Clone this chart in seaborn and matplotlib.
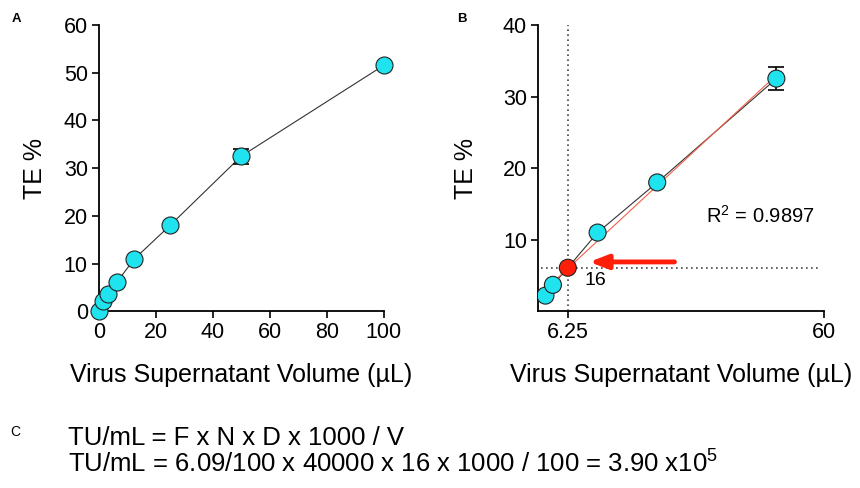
import numpy as np
import pandas as pd
import seaborn as sns
import matplotlib
matplotlib.use('Agg')
import matplotlib.pyplot as plt

# data
vol_a = [0, 1.5625, 3.125, 6.25, 12.5, 25, 50, 100]
te_a = [0, 2.2, 3.7, 6.1, 11.0, 18.0, 32.5, 51.5]
err_a = [0, 0, 0, 0, 0, 0, 1.6, 0]

vol_b = [1.5625, 3.125, 6.25, 12.5, 25, 50]
te_b = [2.2, 3.7, 6.09, 11.0, 18.0, 32.5]
err_b = [0, 0, 0, 0, 0, 1.6]

cut_vol = 6.25
cut_te = 6.09
r2_text = 'R$^2$ = 0.9897'
dil_label = '16'
formula_1 = 'TU/mL = F x N x D x 1000 / V'
formula_2 = 'TU/mL = 6.09/100 x 40000 x 16 x 1000 / 100 = 3.90 x10$^5$'

sns.set_theme(style='ticks', rc={'text.color': 'black', 'axes.labelcolor': 'black',
                                 'xtick.color': 'black', 'ytick.color': 'black'})
plt.rcParams['font.family'] = ['Liberation Sans', 'DejaVu Sans']
plt.rcParams['mathtext.fontset'] = 'custom'
plt.rcParams['mathtext.rm'] = 'Liberation Sans'
plt.rcParams['mathtext.it'] = 'Liberation Sans'

cyan = '#1FE3EE'
fig = plt.figure(figsize=(8.6, 4.88), dpi=100)
ax_a = fig.add_axes([0.115, 0.362, 0.331, 0.587])
ax_b = fig.add_axes([0.6256, 0.362, 0.3326, 0.587])

def style_axis(ax, ypad):
    sns.despine(ax=ax)
    for s in ['left', 'bottom']:
        ax.spines[s].set_linewidth(1.3)
        ax.spines[s].set_color('black')
    ax.tick_params(direction='out', length=5, width=1.2, labelsize=15.5, colors='black', pad=3)
    ax.set_xlabel('Virus Supernatant Volume (µL)', fontsize=18, labelpad=14)
    ax.set_ylabel('TE %', fontsize=18, labelpad=ypad)

# panel A
df_a = pd.DataFrame({'vol': vol_a, 'te': te_a})
sns.lineplot(data=df_a, x='vol', y='te', ax=ax_a, color='#333333', lw=0.8, zorder=2)
ax_a.errorbar(vol_a, te_a, yerr=err_a, fmt='none', ecolor='black', elinewidth=1.2, capsize=6, capthick=1.2, zorder=2)
sns.scatterplot(data=df_a, x='vol', y='te', ax=ax_a, color=cyan, edgecolor='#222222', linewidth=0.8, s=150, zorder=3, clip_on=False)
ax_a.set_xlim(0, 100)
ax_a.set_ylim(0, 60)
ax_a.set_xticks([0, 20, 40, 60, 80, 100])
ax_a.set_yticks([0, 10, 20, 30, 40, 50, 60])
style_axis(ax_a, 12)

# panel B
df_b = pd.DataFrame({'vol': vol_b, 'te': te_b})
ax_b.axvline(cut_vol, color='#444444', lw=1.2, ls=(0, (1, 2)), zorder=1)
ax_b.axhline(cut_te, xmin=0.01, xmax=0.985, color='#444444', lw=1.2, ls=(0, (1, 2)), zorder=1)
sns.lineplot(data=df_b, x='vol', y='te', ax=ax_b, color='#333333', lw=0.8, zorder=2)
sns.regplot(data=df_b, x='vol', y='te', ax=ax_b, scatter=False, ci=None, color='#F2604A', line_kws={'lw': 0.8, 'zorder': 2})
ax_b.errorbar(vol_b, te_b, yerr=err_b, fmt='none', ecolor='black', elinewidth=1.2, capsize=6, capthick=1.2, zorder=2)
colors_b = [cyan if v != cut_vol else '#FF1E0A' for v in vol_b]
ax_b.scatter(vol_b, te_b, c=colors_b, edgecolors='#222222', linewidths=0.8, s=150, zorder=3)
ax_b.annotate('', xy=(10.2, 6.9), xytext=(29.2, 6.9),
              arrowprops=dict(arrowstyle='-|>,head_length=0.9,head_width=0.35', color='#FF1E0A', lw=3.5))
ax_b.text(12.1, 4.3, dil_label, fontsize=14, ha='center', va='center')
ax_b.text(35.2, 13.4, r2_text, fontsize=14.5, ha='left', va='center')
ax_b.set_xlim(0, 60)
ax_b.set_ylim(0, 40)
ax_b.set_xticks([6.25, 60])
ax_b.set_xticklabels(['6.25', '60'])
ax_b.set_yticks([10, 20, 30, 40])
style_axis(ax_b, 18)

fig.text(0.014, 0.961, 'A', fontsize=9.5, fontweight='bold', ha='left', va='center')
fig.text(0.531, 0.961, 'B', fontsize=9.5, fontweight='bold', ha='left', va='center')
fig.text(0.012, 0.115, 'C', fontsize=10, ha='left', va='center')
fig.text(0.079, 0.1025, formula_1, fontsize=18.5, ha='left', va='center')
fig.text(0.079, 0.049, formula_2, fontsize=18.5, ha='left', va='center')

fig.savefig('out.png', dpi=100)
